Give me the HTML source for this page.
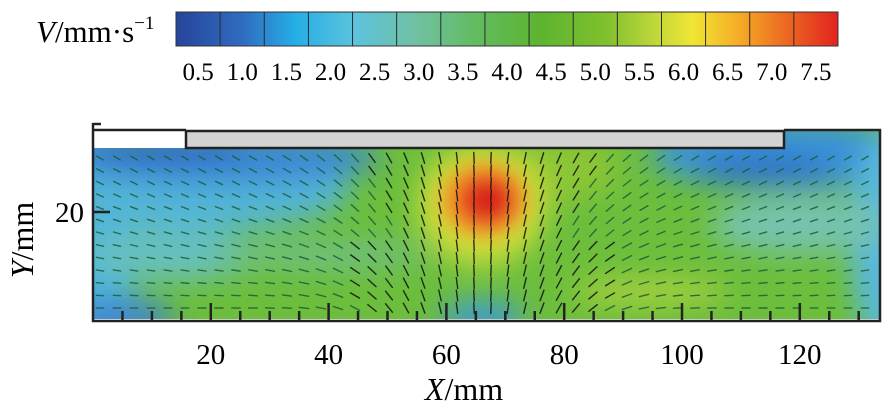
<!DOCTYPE html>
<html><head><meta charset="utf-8"><style>
html,body{margin:0;padding:0;background:#fff;}
svg{display:block;font-family:"Liberation Serif",serif;}
</style></head><body>
<svg id="s" width="883" height="411" viewBox="0 0 883 411" xmlns="http://www.w3.org/2000/svg">
<defs>
<linearGradient id="cb" x1="0" x2="1" y1="0" y2="0">
<stop offset="0" stop-color="#27449a"/>
<stop offset="0.1" stop-color="#2f6cc0"/>
<stop offset="0.18" stop-color="#25aee6"/>
<stop offset="0.27" stop-color="#5cc3dc"/>
<stop offset="0.36" stop-color="#70c1a5"/>
<stop offset="0.45" stop-color="#62bc62"/>
<stop offset="0.55" stop-color="#5db430"/>
<stop offset="0.65" stop-color="#80c02e"/>
<stop offset="0.72" stop-color="#bcd63a"/>
<stop offset="0.78" stop-color="#f0e634"/>
<stop offset="0.85" stop-color="#f5ad26"/>
<stop offset="0.92" stop-color="#ec6a21"/>
<stop offset="1" stop-color="#e2231f"/>
</linearGradient>
<filter id="bl" x="-50%" y="-50%" width="200%" height="200%"><feGaussianBlur stdDeviation="14"/></filter>
<filter id="bl2" x="-50%" y="-50%" width="200%" height="200%"><feGaussianBlur stdDeviation="9"/></filter>
<clipPath id="cp"><path d="M94 148 H784 V131 H879 V319 H94 Z"/></clipPath>
</defs>
<rect x="176" y="12" width="662" height="34" fill="url(#cb)" stroke="#333" stroke-width="1"/>
<g id="cbd" stroke="#2a2a2a" stroke-width="1"></g>
<text x="36" y="42" font-size="31"><tspan font-style="italic">V</tspan>/mm·s<tspan font-size="19" dy="-13">−1</tspan></text>
<g font-size="25" id="cbl"></g>
<g clip-path="url(#cp)">
<rect x="94" y="130" width="785" height="190" fill="#6cbe3c"/>
<g filter="url(#bl)">
<ellipse cx="90" cy="240" rx="45" ry="130" fill="#50b4dc"/>
<ellipse cx="200" cy="190" rx="150" ry="40" fill="#52b5d8"/>
<ellipse cx="220" cy="158" rx="160" ry="26" fill="#3a88d4"/>
<ellipse cx="160" cy="150" rx="90" ry="14" fill="#2f6cc4"/>
<ellipse cx="170" cy="255" rx="90" ry="25" fill="#66c0c0"/>
<ellipse cx="320" cy="255" rx="110" ry="14" fill="#6fc084"/>
<ellipse cx="790" cy="155" rx="140" ry="34" fill="#3b93d8"/>
<ellipse cx="765" cy="170" rx="70" ry="14" fill="#2f70c6"/>
<ellipse cx="890" cy="240" rx="40" ry="110" fill="#58b8dc"/>
<ellipse cx="800" cy="225" rx="90" ry="28" fill="#76c3b0"/>
<ellipse cx="482" cy="318" rx="42" ry="16" fill="#3a98dc"/>
<ellipse cx="120" cy="318" rx="55" ry="20" fill="#3f86d0"/>
<ellipse cx="650" cy="292" rx="80" ry="14" fill="#a8d03c"/>
<ellipse cx="560" cy="170" rx="60" ry="30" fill="#8cc636"/>
<ellipse cx="482" cy="205" rx="64" ry="60" fill="#cfdf3a"/>
</g>
<g filter="url(#bl2)">
<ellipse cx="484" cy="200" rx="44" ry="38" fill="#f1a428"/>
<ellipse cx="486" cy="200" rx="32" ry="28" fill="#ea5520"/>
<ellipse cx="488" cy="200" rx="20" ry="18" fill="#d8231c"/>
</g>
<g id="arr" stroke-linecap="round"></g>
</g>
<rect x="186" y="131" width="598" height="17" fill="#d3d3d3" stroke="#222" stroke-width="2.5"/>
<path d="M93 124 H101 M93 123 V321 H880 V130 H784 M93 130 H186" stroke="#222" stroke-width="2.5" fill="none"/>
<path d="M92 212 H110" stroke="#222" stroke-width="2.5"/>
<g id="tk" stroke="#222" stroke-width="2.5"></g>
<g font-size="29" text-anchor="middle" id="xl"></g>
<text x="84" y="222" font-size="29" text-anchor="end">20</text>
<text transform="translate(33,240) rotate(-90)" font-size="32" text-anchor="middle"><tspan font-style="italic">Y</tspan>/mm</text>
<text x="464" y="400" font-size="32" text-anchor="middle"><tspan font-style="italic">X</tspan>/mm</text>
</svg>
<script>
var NS="http://www.w3.org/2000/svg";
function el(p,t,a,txt){var e=document.createElementNS(NS,t);for(var k in a)e.setAttribute(k,a[k]);if(txt)e.textContent=txt;document.getElementById(p).appendChild(e);}
var w=662/15;
for(var i=1;i<15;i++){var x=176+i*w;el("cbd","line",{x1:x,x2:x,y1:12,y2:46});}
for(var i=0;i<15;i++){el("cbl","text",{x:176+(i+0.5)*w,y:80,"text-anchor":"middle"},((i+1)*0.5).toFixed(1));}
function px(mm){return 93+5.89*mm;}
for(var mm=5;mm<=130;mm+=5){var x=px(mm);var big=mm%20==0;el("tk","line",{x1:x,x2:x,y1:321,y2:big?303:311});}
for(var mm=20;mm<=120;mm+=20){el("xl","text",{x:px(mm),y:364},String(mm));}
for(var y=158;y<=314;y+=12.5){for(var x=100;x<878;x+=17){
 var dx=(x-482)/380, yn=(y-150)/170;
 var u=-Math.tanh(dx*3);
 var v=Math.exp(-Math.pow(dx*3.5,2))*1.6+0.6*(1-yn)*Math.abs(u)-0.05*yn*Math.abs(u);
 var m=Math.sqrt(u*u+v*v)||1;
 var sp=0.4+0.8*Math.exp(-Math.pow(dx*2.2,2))*(1-0.4*yn)+0.3*(yn>0.55&&yn<0.95?1:0)*(1-Math.abs(dx));
 var L=Math.min(11,5+6*sp); var ux=u/m*L/2, vy=v/m*L/2;
 var c=sp>0.9?"#111":"#1d5e3a";
 el("arr","line",{x1:x-ux,y1:y-vy,x2:x+ux,y2:y+vy,stroke:c,"stroke-width":1.4,opacity:0.85});
}}
</script>
</body></html>
